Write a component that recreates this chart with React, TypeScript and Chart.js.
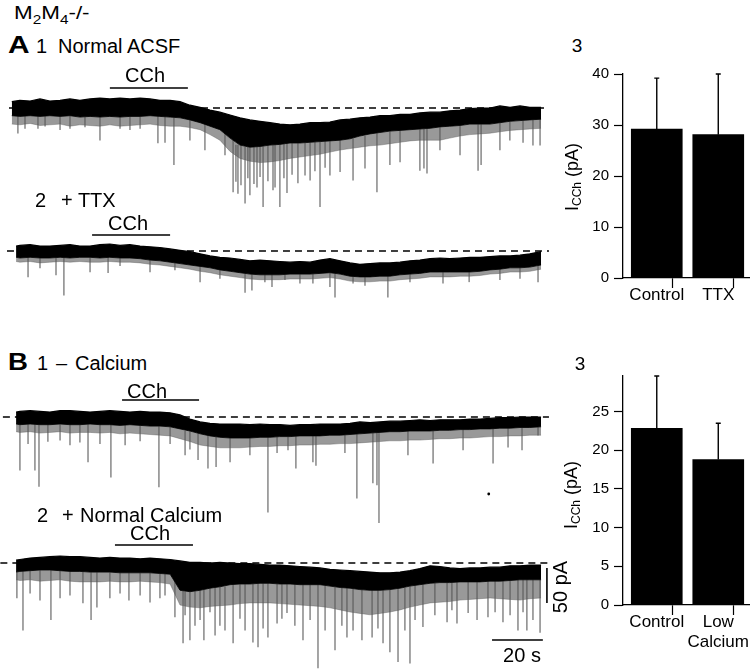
import React, { useEffect, useRef } from "react";
import { Chart, registerables } from "chart.js";
Chart.register(...registerables);

const FONT = '"Liberation Sans", Arial, Helvetica, sans-serif';
const PX_PER_PA = 0.7;
const PX_PER_S = 2.541;

// ---- shared sample times (s) for trace envelopes ----
const sampleTimes = [3.2, 7.2, 11.1, 15.0, 19.0, 22.9, 26.8, 30.8, 34.7, 38.6, 42.6, 46.5, 50.5, 54.4, 58.3, 62.3, 66.2, 70.1, 74.1, 78.0, 81.9, 85.9, 89.8, 93.7, 97.7, 101.6, 105.5, 109.5, 113.4, 117.4, 121.3, 125.2, 129.2, 133.1, 137.0, 141.0, 144.9, 148.8, 152.8, 156.7, 160.6, 164.6, 168.5, 172.4, 176.4, 180.3, 184.3, 188.2, 192.1, 196.1, 200.0, 203.9, 208.3];

// ---- A1 Normal ACSF (pA relative to baseline) ----
const a1Start = 0;
const a1Top = [9, 11, 10, 13, 10, 11, 13, 11, 13, 14, 13, 14, 13, 14, 13, 11, 11, 9, 4, 1, -3, -6, -10, -14, -17, -19, -21, -23, -24, -23, -21, -21, -20, -17, -16, -14, -13, -11, -11, -9, -9, -7, -6, -6, -4, -3, -1, 0, 0, 3, 1, 3, 1, 1];
const a1Bottom = [-11, -12, -11, -12, -11, -12, -11, -13, -12, -13, -12, -13, -12, -12, -11, -12, -13, -14, -17, -21, -26, -31, -43, -53, -56, -55, -53, -52, -50, -50, -49, -48, -47, -46, -44, -40, -37, -35, -33, -32, -31, -30, -29, -27, -26, -25, -23, -23, -23, -21, -19, -18, -17, -16];
const a1Fringe = [-23, -24, -22, -25, -24, -23, -26, -24, -25, -26, -24, -26, -25, -24, -23, -25, -26, -26, -28, -31, -38, -46, -62, -72, -76, -78, -77, -75, -72, -70, -68, -66, -63, -60, -58, -56, -54, -53, -51, -49, -47, -46, -46, -46, -43, -40, -38, -37, -36, -34, -32, -31, -30, -29];
const a1SpikeT = [2.4, 5.2, 10.3, 13.1, 19.0, 22.9, 28.8, 34.7, 42.6, 46.5, 50.5, 57.5, 60.3, 63.8, 70.1, 76.0, 83.9, 87.1, 88.2, 89.0, 90.2, 91.8, 92.9, 93.7, 95.3, 96.5, 97.7, 98.9, 100.8, 102.8, 103.6, 105.5, 107.1, 108.3, 110.3, 112.6, 115.4, 117.4, 119.3, 121.3, 123.3, 125.2, 129.2, 134.3, 139.0, 143.7, 148.8, 152.8, 160.6, 162.2, 163.4, 168.5, 176.4, 183.5, 184.7, 192.1, 196.0, 201.2, 205.1, 207.9];
const a1SpikeV = [-36, -29, -29, -26, -31, -29, -27, -46, -29, -31, -29, -50, -49, -81, -46, -60, -67, -120, -105, -122, -110, -136, -100, -124, -108, -113, -98, -141, -104, -117, -113, -141, -100, -121, -95, -107, -96, -103, -90, -141, -85, -96, -91, -103, -86, -120, -81, -77, -89, -86, -93, -60, -67, -89, -81, -60, -46, -49, -53, -53];
const a1CCh = [38.6, 69.3, 28.6];

// ---- A2 + TTX ----
const a2Start = 1.7;
const a2Top = [7, 8, 9, 7, 7, 8, 9, 7, 7, 9, 10, 8, 9, 7, 6, 5, 3, 1, -1, -4, -7, -9, -10, -12, -14, -13, -14, -15, -16, -15, -16, -13, -11, -14, -17, -19, -18, -17, -17, -16, -14, -13, -11, -10, -11, -10, -9, -9, -8, -7, -7, -6, -4, -1];
const a2Bottom = [-9, -10, -9, -10, -10, -9, -10, -9, -9, -10, -9, -10, -10, -11, -13, -14, -16, -18, -20, -22, -24, -27, -29, -31, -33, -34, -34, -34, -33, -33, -33, -32, -31, -33, -36, -37, -37, -36, -36, -34, -33, -32, -30, -30, -30, -30, -30, -29, -27, -26, -24, -24, -23, -20];
const a2Fringe = [-15, -16, -15, -17, -16, -15, -16, -15, -16, -16, -15, -16, -16, -17, -19, -20, -22, -24, -26, -29, -31, -34, -36, -38, -40, -41, -41, -41, -40, -40, -40, -39, -38, -40, -43, -44, -44, -43, -43, -41, -40, -39, -37, -37, -37, -36, -36, -35, -33, -32, -30, -30, -29, -26];
const a2SpikeT = [6.4, 11.1, 17.4, 20.5, 30.8, 37.9, 42.6, 54.4, 64.2, 74.1, 81.9, 91.8, 94.5, 99.6, 102.4, 107.5, 113.4, 118.5, 125.2, 127.2, 134.3, 139.0, 148.0, 156.7, 169.7, 180.0, 192.1, 200.0, 207.1];
const a2SpikeV = [-37, -24, -34, -63, -30, -31, -21, -30, -27, -44, -39, -59, -56, -44, -51, -41, -46, -46, -51, -66, -46, -49, -66, -44, -46, -44, -41, -39, -44];
const a2CCh = [31.6, 62.3, 22.9];

// ---- B1 - Calcium ----
const b1Start = 1.7;
const b1Top = [7, 8, 9, 8, 7, 9, 9, 8, 7, 8, 9, 8, 7, 8, 7, 7, 6, 3, -3, -7, -9, -10, -10, -10, -11, -10, -11, -11, -12, -11, -11, -10, -10, -10, -9, -7, -8, -7, -6, -6, -5, -4, -5, -4, -4, -4, -3, -3, -2, -1, -1, 0, 0, 0];
const b1Bottom = [-10, -11, -10, -11, -11, -10, -11, -11, -10, -11, -11, -12, -11, -12, -13, -13, -14, -17, -20, -24, -27, -29, -30, -30, -30, -29, -29, -28, -28, -27, -27, -27, -26, -26, -25, -24, -23, -22, -21, -21, -20, -20, -20, -19, -19, -18, -18, -17, -17, -16, -16, -15, -15, -14];
const b1Fringe = [-21, -22, -21, -23, -22, -21, -23, -22, -22, -23, -22, -24, -23, -24, -25, -26, -27, -31, -35, -40, -42, -44, -44, -44, -43, -42, -42, -41, -41, -40, -40, -39, -39, -38, -38, -37, -36, -35, -34, -34, -33, -33, -32, -31, -31, -30, -30, -29, -28, -28, -27, -27, -26, -26];
const b1SpikeT = [3.2, 6.4, 9.1, 10.7, 14.2, 19.0, 22.9, 26.8, 30.0, 34.7, 39.0, 44.6, 50.5, 57.9, 62.3, 68.2, 70.1, 73.3, 77.2, 80.4, 85.9, 93.7, 100.8, 104.4, 108.7, 111.8, 118.5, 119.7, 131.1, 135.8, 142.1, 143.7, 144.5, 155.9, 165.8, 177.6, 189.4, 195.3, 200.8, 207.1];
const b1SpikeV = [-76, -38, -76, -99, -35, -33, -40, -36, -64, -38, -86, -40, -34, -100, -38, -54, -46, -61, -73, -71, -64, -54, -136, -51, -47, -73, -64, -69, -51, -116, -94, -97, -151, -54, -66, -47, -66, -43, -47, -26];
const b1CCh = [43.4, 73.7, 24.3];
const b1Dot = [187.7, -110];

// ---- B2 + Normal Calcium ----
const b2Start = 1.7;
const b2Top = [4, 5, 7, 8, 9, 10, 9, 9, 8, 7, 8, 7, 7, 6, 7, 6, 5, 3, 1, 1, 0, 1, 0, -1, -1, -2, -3, -3, -4, -5, -6, -7, -9, -10, -11, -12, -13, -14, -14, -13, -11, -8, -4, -5, -7, -8, -7, -7, -6, -6, -4, -4, -3, -3];
const b2Bottom = [-13, -12, -11, -10, -10, -11, -12, -12, -13, -13, -13, -14, -14, -14, -14, -15, -16, -39, -41, -39, -36, -34, -31, -30, -30, -29, -29, -30, -30, -31, -31, -31, -33, -35, -36, -38, -39, -39, -38, -36, -33, -31, -29, -28, -28, -27, -27, -27, -26, -26, -25, -24, -24, -24];
const b2Fringe = [-24, -25, -24, -26, -25, -24, -26, -27, -27, -27, -26, -27, -27, -26, -27, -28, -30, -60, -63, -64, -62, -61, -60, -58, -57, -57, -57, -58, -59, -60, -61, -62, -64, -67, -70, -72, -74, -72, -70, -67, -63, -60, -57, -56, -55, -53, -52, -51, -50, -51, -52, -53, -51, -50];
const b2SpikeT = [2.0, 4.4, 7.2, 11.1, 15.4, 19.0, 22.9, 28.0, 31.2, 33.5, 38.6, 42.6, 46.1, 50.5, 54.4, 58.3, 60.3, 64.2, 67.4, 68.2, 70.1, 72.1, 74.1, 75.6, 78.0, 80.0, 81.9, 83.9, 87.1, 89.8, 91.8, 94.9, 96.9, 98.9, 100.8, 104.4, 106.3, 108.3, 111.4, 114.6, 117.4, 120.5, 123.3, 127.2, 129.9, 131.9, 134.3, 137.8, 141.8, 144.1, 146.1, 148.8, 152.0, 154.7, 156.7, 158.7, 161.8, 166.5, 171.3, 173.2, 175.2, 179.6, 183.1, 187.4, 190.2, 193.3, 196.1, 199.2, 201.2, 202.7, 205.1, 207.9];
const b2SpikeV = [-50, -96, -43, -53, -81, -50, -46, -57, -81, -63, -50, -43, -53, -46, -56, -50, -46, -77, -114, -74, -110, -89, -81, -110, -70, -103, -89, -96, -114, -79, -96, -113, -120, -93, -106, -86, -79, -71, -89, -110, -81, -150, -96, -124, -89, -106, -96, -110, -106, -93, -114, -127, -141, -96, -143, -81, -91, -74, -84, -67, -86, -71, -81, -77, -70, -84, -74, -96, -70, -96, -81, -99];
const b2CCh = [40.6, 71.3, 25.7];
const scaleBarPA = [-7.1, -57.1]; // 50 pA
const scaleBarT = 210.6;
const scaleBarS = [189.0, 209.0]; // 20 s
const scaleBarSY = -110;

// ---- bar panels ----
const a3Labels: any[] = ["Control", "TTX"];
const a3Values = [29.2, 28.1];
const a3Errors = [10.0, 11.9];
const a3YTicks = [0, 10, 20, 30, 40];
const a3YMax = 40;

const b3Labels: any[] = ["Control", ["Low", "Calcium"]];
const b3Values = [22.85, 18.8];
const b3Errors = [6.75, 4.7];
const b3YTicks = [0, 5, 10, 15, 20, 25];
const b3YMax = 29.6;

const xTickPos = [0.5, 1, 1.5, 2, 2.5];

const TRACE_LEFT = 0;
const TRACE_WIDTH = 550;
const X_MIN = -4.64;
const X_MAX = X_MIN + TRACE_WIDTH / PX_PER_S;

type TraceProps = {
  top: number; height: number; yMax: number; start: number;
  topV: number[]; bottomV: number[]; fringeV: number[];
  spikeT: number[]; spikeV: number[]; dashFrom: number; cch: number[];
  extra?: string;
};

function Trace(p: TraceProps) {
  const ref = useRef<HTMLCanvasElement>(null);
  useEffect(() => {
    const times = [p.start, ...sampleTimes];
    const pts = (v: number[]) => v.map((y, i) => ({ x: times[i], y }));
    const nearestBottom = (t: number) => {
      let b = 0;
      for (let i = 1; i < times.length; i++) if (Math.abs(times[i] - t) < Math.abs(times[b] - t)) b = i;
      return p.bottomV[b];
    };
    const yMin = p.yMax - p.height / PX_PER_PA;
    const line = (data: any[], extra: any) => ({ type: "line", data, pointRadius: 0, fill: false, ...extra });
    const datasets: any[] = [
      line(pts(p.fringeV), { borderColor: "rgba(90,90,90,0.5)", borderWidth: 0.8, order: 5 }),
      line(pts(p.bottomV), { borderColor: "#222", borderWidth: 1, fill: "-1", backgroundColor: "rgba(85,85,85,0.6)", order: 4 }),
      line(pts(p.topV), { borderColor: "#000", borderWidth: 1.2, fill: "-1", backgroundColor: "#000", order: 3 }),
      {
        type: "bar",
        data: p.spikeT.map((t, i) => ({ x: t, y: [p.spikeV[i], nearestBottom(t)] })),
        backgroundColor: "#939393", barThickness: 1, order: 10,
      },
      line([{ x: p.dashFrom, y: 0 }, { x: 211.4, y: 0 }], { borderColor: "#000", borderWidth: 1.4, borderDash: [7, 5], order: 1, clip: false }),
      line([{ x: p.cch[0], y: p.cch[2] }, { x: p.cch[1], y: p.cch[2] }], { borderColor: "#000", borderWidth: 1.6, order: 0 }),
    ];
    if (p.extra === "dot") {
      datasets.push({ type: "line", data: [{ x: b1Dot[0], y: b1Dot[1] }], showLine: false, pointRadius: 1.4, pointBackgroundColor: "#000", pointBorderWidth: 0, order: 0 });
    }
    if (p.extra === "scale") {
      datasets.push(line([{ x: scaleBarT, y: scaleBarPA[0] }, { x: scaleBarT, y: scaleBarPA[1] }], { borderColor: "#000", borderWidth: 1.6, order: 0, clip: false }));
      datasets.push(line([{ x: scaleBarS[0], y: scaleBarSY }, { x: scaleBarS[1], y: scaleBarSY }], { borderColor: "#000", borderWidth: 1.6, order: 0, clip: false }));
    }
    const chart = new Chart(ref.current as any, {
      type: "bar",
      data: { datasets },
      options: {
        animation: false, responsive: false, devicePixelRatio: 1,
        layout: { padding: 0, autoPadding: false },
        plugins: { legend: { display: false }, tooltip: { enabled: false } },
        scales: {
          x: { type: "linear", display: false, min: X_MIN, max: X_MAX, offset: false },
          y: { type: "linear", display: false, min: yMin, max: p.yMax },
        },
      } as any,
    } as any);
    return () => chart.destroy();
  }, []);
  return (
    <canvas ref={ref} width={TRACE_WIDTH} height={p.height}
      style={{ position: "absolute", left: TRACE_LEFT, top: p.top, width: TRACE_WIDTH, height: p.height }} />
  );
}

type BarProps = {
  top: number; height: number; xAxisH: number; labels: any[]; values: number[];
  errors: number[]; yMax: number; yTicks: number[];
};

function BarPanel(p: BarProps) {
  const ref = useRef<HTMLCanvasElement>(null);
  useEffect(() => {
    const errPlugin = {
      id: "errbars",
      afterDatasetsDraw(chart: any) {
        const ctx = chart.ctx;
        const meta = chart.getDatasetMeta(0);
        const ys = chart.scales.y;
        ctx.save();
        ctx.strokeStyle = "#000";
        ctx.lineWidth = 1.4;
        meta.data.forEach((bar: any, i: number) => {
          const yt = ys.getPixelForValue(p.values[i] + p.errors[i]);
          ctx.beginPath();
          ctx.moveTo(bar.x, bar.y);
          ctx.lineTo(bar.x, yt);
          ctx.moveTo(bar.x - 2.5, yt);
          ctx.lineTo(bar.x + 2.5, yt);
          ctx.stroke();
        });
        ctx.restore();
      },
    };
    const chart = new Chart(ref.current as any, {
      type: "bar",
      data: {
        datasets: [{ data: p.values.map((v, i) => ({ x: i + 1, y: v })), backgroundColor: "#000", barThickness: 51 }],
      },
      options: {
        animation: false, responsive: false, devicePixelRatio: 1,
        layout: { padding: { top: 11, left: 0, right: 0, bottom: 0 } },
        plugins: { legend: { display: false }, tooltip: { enabled: false } },
        scales: {
          x: {
            type: "linear", min: 0.451, max: 2.516, offset: false,
            afterBuildTicks: (s: any) => { s.ticks = xTickPos.map((v) => ({ value: v })); },
            afterFit: (s: any) => { s.height = p.xAxisH; },
            grid: {
              drawOnChartArea: false, tickLength: 10, tickWidth: 1.2,
              tickColor: (c: any) => (c.tick && Number.isInteger(c.tick.value) ? "rgba(0,0,0,0)" : "#000"),
            },
            border: { display: true, color: "#000", width: 1.3 },
            ticks: {
              autoSkip: false, maxRotation: 0, minRotation: 0, padding: -3, color: "#000",
              font: { family: FONT, size: 17 },
              callback: (v: any) => (v === 1 ? p.labels[0] : v === 2 ? p.labels[1] : ""),
            },
          },
          y: {
            type: "linear", min: 0, max: p.yMax,
            afterBuildTicks: (s: any) => { s.ticks = p.yTicks.map((v) => ({ value: v })); },
            afterFit: (s: any) => { s.width = 61; },
            grid: { drawOnChartArea: false, tickLength: 9, tickWidth: 1.2, tickColor: "#000" },
            border: { display: true, color: "#000", width: 1.3 },
            ticks: { padding: 5, color: "#000", font: { family: FONT, size: 15 } },
          },
        },
      } as any,
      plugins: [errPlugin],
    } as any);
    return () => chart.destroy();
  }, []);
  return (
    <canvas ref={ref} width={188} height={p.height}
      style={{ position: "absolute", left: 562, top: p.top, width: 188, height: p.height }} />
  );
}

function Txt(props: { x: number; y: number; size?: number; bold?: boolean; center?: boolean; sx?: number; rotate?: boolean; children: any }) {
  const size = props.size ?? 20;
  const style: any = {
    position: "absolute", left: props.x, top: props.y - size / 2, fontFamily: FONT, fontSize: size,
    lineHeight: `${size}px`, fontWeight: props.bold ? 700 : 400, whiteSpace: "nowrap", color: "#000",
  };
  if (props.center) style.transform = "translateX(-50%)";
  if (props.sx) { style.transform = `scaleX(${props.sx})`; style.transformOrigin = "left center"; }
  if (props.rotate) { style.top = props.y; style.transform = "translate(-50%, -50%) rotate(-90deg)"; }
  return <div style={style}>{props.children}</div>;
}

const sub = (s: string, size: number, drop: number) => (
  <span style={{ fontSize: size, position: "relative", top: drop }}>{s}</span>
);

export default function App() {
  return (
    <div style={{ position: "absolute", left: 0, top: 0, width: 750, height: 669, overflow: "hidden", background: "#fff" }}>
      <Trace top={80} height={133} yMax={40} start={a1Start} topV={a1Top} bottomV={a1Bottom} fringeV={a1Fringe}
        spikeT={a1SpikeT} spikeV={a1SpikeV} dashFrom={-1.1} cch={a1CCh} />
      <Trace top={223} height={84} yMax={40} start={a2Start} topV={a2Top} bottomV={a2Bottom} fringeV={a2Fringe}
        spikeT={a2SpikeT} spikeV={a2SpikeV} dashFrom={-1.9} cch={a2CCh} />
      <Trace top={396} height={133} yMax={30} start={b1Start} topV={b1Top} bottomV={b1Bottom} fringeV={b1Fringe}
        spikeT={b1SpikeT} spikeV={b1SpikeV} dashFrom={-3.5} cch={b1CCh} extra="dot" />
      <Trace top={542} height={127} yMax={30} start={b2Start} topV={b2Top} bottomV={b2Bottom} fringeV={b2Fringe}
        spikeT={b2SpikeT} spikeV={b2SpikeV} dashFrom={-4.5} cch={b2CCh} extra="scale" />

      <BarPanel top={60} height={254} xAxisH={36} labels={a3Labels} values={a3Values} errors={a3Errors} yMax={a3YMax} yTicks={a3YTicks} />
      <BarPanel top={362} height={291} xAxisH={48} labels={b3Labels} values={b3Values} errors={b3Errors} yMax={b3YMax} yTicks={b3YTicks} />

      <Txt x={14} y={12} size={19} sx={1.18}>M{sub("2", 13, 5)}M{sub("4", 13, 5)}-/-</Txt>
      <Txt x={8} y={45} size={23} bold sx={1.3}>A</Txt>
      <Txt x={36} y={46}>1</Txt>
      <Txt x={58} y={46}>Normal ACSF</Txt>
      <Txt x={145} y={74.5} center>CCh</Txt>
      <Txt x={35} y={200}>2</Txt>
      <Txt x={61} y={200}>+ TTX</Txt>
      <Txt x={128} y={222.5} center>CCh</Txt>
      <Txt x={577} y={45} size={19} center>3</Txt>
      <Txt x={573} y={177} size={18} rotate>I{sub("CCh", 12, 3)} (pA)</Txt>

      <Txt x={8} y={362} size={23} bold sx={1.2}>B</Txt>
      <Txt x={37} y={363}>1</Txt>
      <Txt x={56} y={363}>–</Txt>
      <Txt x={75} y={363}>Calcium</Txt>
      <Txt x={147} y={391} center>CCh</Txt>
      <Txt x={37} y={514.5}>2</Txt>
      <Txt x={62} y={514.5}>+</Txt>
      <Txt x={80} y={514.5}>Normal Calcium</Txt>
      <Txt x={150} y={533} center>CCh</Txt>
      <Txt x={580} y={363} size={19} center>3</Txt>
      <Txt x={572} y={495} size={18} rotate>I{sub("CCh", 12, 3)} (pA)</Txt>

      <Txt x={522} y={655} center>20 s</Txt>
      <Txt x={560} y={587} rotate>50 pA</Txt>
    </div>
  );
}
